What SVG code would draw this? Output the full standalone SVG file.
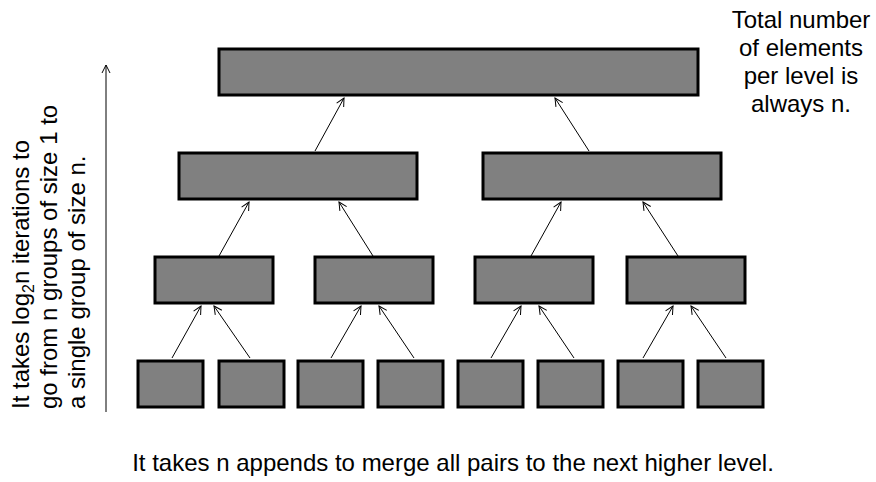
<svg xmlns="http://www.w3.org/2000/svg" width="876" height="482" viewBox="0 0 876 482">
<defs>
<style>
.box{fill:#808080;stroke:#000;stroke-width:3}
.con{stroke:#000;stroke-width:1;fill:none;marker-end:url(#ah)}
.t{font-family:"Liberation Sans",Arial,sans-serif;font-size:24px;fill:#000}
</style>
<marker id="ah" markerUnits="userSpaceOnUse" markerWidth="12" markerHeight="12" refX="9" refY="5" orient="auto">
<path d="M1,1 L9,5 L1,9" fill="none" stroke="#000" stroke-width="1"/>
</marker>
</defs>
<rect width="876" height="482" fill="#fff"/>
<g id="connectors">
<line class="con" x1="172" y1="358" x2="201" y2="306"/>
<line class="con" x1="250" y1="358" x2="214" y2="306"/>
<line class="con" x1="331" y1="358" x2="361" y2="306"/>
<line class="con" x1="414" y1="358" x2="379" y2="306"/>
<line class="con" x1="491" y1="358" x2="521" y2="306"/>
<line class="con" x1="574" y1="358" x2="539" y2="306"/>
<line class="con" x1="643" y1="358" x2="673" y2="306"/>
<line class="con" x1="726" y1="358" x2="691" y2="306"/>
<line class="con" x1="219" y1="256" x2="249" y2="202"/>
<line class="con" x1="373" y1="256" x2="339" y2="202"/>
<line class="con" x1="531" y1="256" x2="561" y2="202"/>
<line class="con" x1="678" y1="256" x2="643" y2="202"/>
<line class="con" x1="315" y1="151" x2="344" y2="98"/>
<line class="con" x1="589" y1="151" x2="555" y2="98"/>
<line class="con" x1="106" y1="412" x2="106" y2="65"/>
</g>
<g id="top"><rect class="box" x="219" y="49" width="479" height="46"/></g>
<g id="l2a"><rect class="box" x="179" y="153" width="238" height="46"/></g>
<g id="l2b"><rect class="box" x="483" y="153" width="238" height="46"/></g>
<g id="l3a"><rect class="box" x="155" y="257" width="118" height="46"/></g>
<g id="l3b"><rect class="box" x="315" y="257" width="118" height="46"/></g>
<g id="l3c"><rect class="box" x="475" y="257" width="118" height="46"/></g>
<g id="l3d"><rect class="box" x="627" y="257" width="118" height="46"/></g>
<g id="l4a"><rect class="box" x="138" y="361" width="65" height="46"/></g>
<g id="l4b"><rect class="box" x="219" y="361" width="65" height="46"/></g>
<g id="l4c"><rect class="box" x="298" y="361" width="65" height="46"/></g>
<g id="l4d"><rect class="box" x="378" y="361" width="65" height="46"/></g>
<g id="l4e"><rect class="box" x="458" y="361" width="65" height="46"/></g>
<g id="l4f"><rect class="box" x="538" y="361" width="65" height="46"/></g>
<g id="l4g"><rect class="box" x="618" y="361" width="65" height="46"/></g>
<g id="l4h"><rect class="box" x="698" y="361" width="65" height="46"/></g>
<g id="label-right" class="t" text-anchor="middle">
<text x="801" y="28">Total number</text>
<text x="801" y="56">of elements</text>
<text x="801" y="84">per level is</text>
<text x="801" y="112">always n.</text>
</g>
<g id="label-bottom"><text class="t" x="453" y="471" text-anchor="middle">It takes n appends to merge all pairs to the next higher level.</text></g>
<g id="label-left" transform="rotate(-90)">
<text class="t" x="-409" y="29">It takes log<tspan font-size="16" dy="5">2</tspan><tspan dy="-5">n iterations to</tspan></text>
<text class="t" x="-409" y="57">go from n groups of size 1 to</text>
<text class="t" x="-409" y="85">a single group of size n.</text>
</g>
</svg>
